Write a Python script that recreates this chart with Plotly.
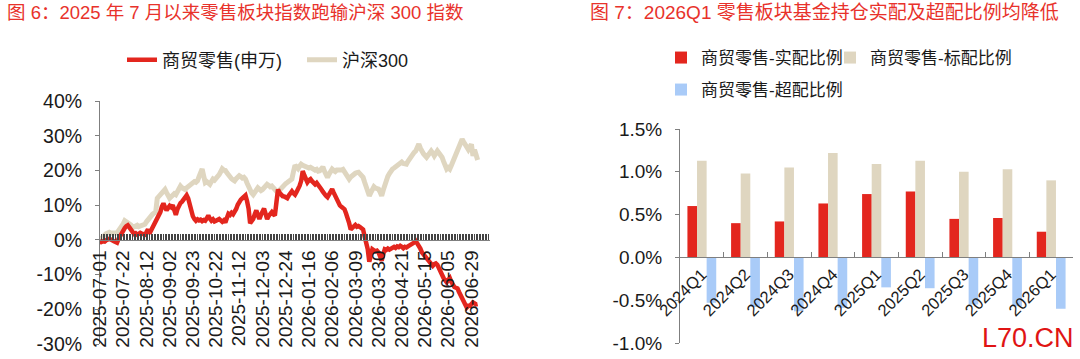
import pandas as pd
import plotly.graph_objects as go

# ---------------- data: left chart ----------------
tick_dates = ["2025-07-01", "2025-07-22", "2025-08-12", "2025-09-02", "2025-09-23",
              "2025-10-22", "2025-11-12", "2025-12-03", "2025-12-24", "2026-01-16",
              "2026-02-06", "2026-03-09", "2026-03-30", "2026-04-21", "2026-05-15",
              "2026-06-05", "2026-06-29"]

holidays = ["2025-10-01", "2025-10-02", "2025-10-03", "2025-10-06", "2025-10-07", "2025-10-08",
            "2026-01-01", "2026-01-02",
            "2026-02-16", "2026-02-17", "2026-02-18", "2026-02-19", "2026-02-20", "2026-02-23",
            "2026-04-06", "2026-05-01", "2026-05-04", "2026-05-05", "2026-06-19"]

retail = [0, -0.6, -0.4, -0.5, -0.1, 0.2, 0.3, 0.1, 0.0, -0.4,
          -0.6, -0.8, 0.3, 1.2, 2.0, 2.8, 3.4, 3.9, 4.2, 3.6,
          2.8, 2.2, 1.7, 1.9, 1.5, 1.7, 2.0, 1.8, 1.6, 1.5,
          2.2, 3.0, 1.8, 2.6, 3.5, 4.2, 5.0, 6.1, 7.0, 8.0,
          9.6, 10.5, 9.4, 8.5, 9.2, 9.8, 9.4, 10.0, 8.6, 7.2,
          8.8, 10.0, 10.6, 11.0, 11.5, 12.1, 12.8, 11.9, 10.0, 8.2,
          6.8, 6.0, 5.5, 5.9, 5.6, 5.8, 5.4, 5.7, 5.5, 6.2,
          7.0, 6.1, 5.5, 5.9, 5.3, 5.5, 5.8, 6.0, 5.6, 5.2,
          5.6, 5.0, 6.3, 7.5, 7.2, 7.8, 7.4, 8.0, 8.9, 10.1,
          11.0, 11.6, 12.0, 12.4, 12.8, 11.2, 9.0, 4.8, 5.4, 6.0,
          7.4, 8.5, 7.1, 6.0, 7.2, 8.1, 9.0, 7.5, 6.0, 6.9,
          7.6, 8.0, 7.4, 7.0, 10.8, 14.5, 13.6, 13.0, 12.6, 12.5,
          12.2, 12.0, 12.8, 13.5, 14.0, 13.4, 13.0, 13.8, 14.5, 15.6,
          17.0, 19.8, 18.6, 17.5, 16.6, 17.2, 17.5, 16.9, 16.2, 16.0,
          16.4, 15.6, 15.1, 14.6, 13.9, 13.1, 12.7, 12.3, 13.2, 14.1,
          14.6, 13.6, 12.7, 11.5, 10.3, 9.9, 9.5, 9.2, 8.8, 7.6,
          6.5, 4.8, 3.0, 3.6, 4.0, 4.3, 3.8, 4.0, 3.7, 3.4,
          3.0, 1.0, -1.0, -2.7, -6.3, -4.5, -2.7, -3.0, -3.3, -3.1,
          -3.6, -4.8, -6.0, -4.2, -2.7, -2.9, -2.5, -2.8, -2.4, -2.2,
          -2.0, -2.3, -1.9, -2.1, -1.7, -2.0, -2.4, -2.0, -2.2, -1.9,
          -1.7, -1.5, -1.2, -0.8, -0.3, -0.9, -1.5, -2.5, -3.6, -4.2,
          -4.9, -5.6, -6.0, -6.8, -7.2, -7.5, -7.0, -6.8, -7.2, -8.3,
          -9.4, -10.4, -11.0, -11.6, -12.2, -11.5, -11.0, -12.1, -13.3, -13.6,
          -13.8, -14.0, -15.0, -16.1, -17.0, -17.8, -18.6, -19.5, -19.0, -19.0,
          -18.6, -18.0, -18.3, -18.6, -18.5]

hs300 = [0, 0.6, 1.1, 1.5, 1.8, 2.0, 2.2, 2.0, 1.9, 2.1,
         2.0, 2.0, 2.6, 3.1, 3.6, 4.6, 5.5, 5.2, 5.0, 5.0,
         4.3, 3.5, 3.7, 3.9, 4.2, 3.8, 4.0, 4.3, 4.6, 4.5,
         5.2, 5.8, 6.5, 6.9, 7.4, 7.7, 8.0, 12.0, 12.6, 13.2,
         13.5, 14.0, 14.5, 13.6, 12.8, 12.0, 12.4, 12.9, 13.3, 13.0,
         14.0, 14.8, 15.5, 15.0, 14.7, 14.5, 15.0, 15.3, 15.5, 15.9,
         16.3, 16.8, 16.6, 17.0, 18.2, 19.4, 20.4, 18.4, 16.5, 16.8,
         16.3, 16.0, 16.8, 17.5, 17.2, 17.6, 18.0, 18.8, 19.6, 20.5,
         20.1, 20.0, 19.3, 18.6, 18.0, 17.6, 17.3, 17.0, 17.6, 18.1,
         18.5, 18.2, 17.8, 18.0, 17.5, 16.4, 15.2, 14.0, 13.5, 13.0,
         13.8, 14.5, 15.0, 14.6, 14.2, 14.5, 15.2, 15.6, 16.0, 15.7,
         15.3, 15.5, 15.0, 14.4, 13.9, 13.5, 14.3, 14.9, 15.5, 15.9,
         16.2, 16.5, 16.9, 17.2, 17.5, 19.6, 21.5, 21.0, 20.5, 21.2,
         21.8, 21.5, 21.2, 21.0, 21.0, 20.7, 20.9, 20.6, 20.4, 20.1,
         20.3, 19.8, 19.9, 20.5, 21.0, 19.8, 18.8, 18.0, 18.9, 19.7,
         20.4, 20.0, 19.7, 20.1, 20.0, 19.9, 20.1, 20.3, 19.4, 18.6,
         18.0, 17.5, 18.1, 18.6, 18.9, 19.2, 19.4, 19.5, 19.0, 18.6,
         18.0, 16.6, 15.0, 14.6, 12.7, 13.6, 14.5, 15.3, 14.9, 14.7,
         14.6, 13.8, 12.7, 14.3, 16.0, 17.5, 18.3, 19.1, 20.0, 20.4,
         20.7, 21.0, 21.4, 21.8, 22.1, 22.4, 22.0, 21.7, 21.8, 22.6,
         23.4, 24.2, 24.7, 25.2, 25.6, 26.5, 27.6, 26.4, 25.3, 24.8,
         24.3, 23.8, 24.4, 25.0, 25.6, 25.0, 24.2, 24.9, 25.6, 25.0,
         24.4, 23.8, 22.6, 21.4, 20.4, 20.8, 20.4, 21.4, 22.4, 23.4,
         24.5, 25.6, 26.8, 27.9, 29.0, 28.2, 27.6, 26.8, 26.0, 26.8,
         27.5, 24.2, 26.0, 24.5, 23.0]

y1_tickvals = [-30, -20, -10, 0, 10, 20, 30, 40]
y1_ticktext = ["-30%", "-20%", "-10%", "0%", "10%", "20%", "30%", "40%"]

# ---------------- data: right chart ----------------
quarters = ["2024Q1", "2024Q2", "2024Q3", "2024Q4", "2025Q1", "2025Q2", "2025Q3", "2025Q4", "2026Q1"]
actual = [0.60, 0.40, 0.42, 0.63, 0.74, 0.77, 0.45, 0.46, 0.30]
standard = [1.13, 0.98, 1.05, 1.22, 1.09, 1.13, 1.00, 1.03, 0.90]
overweight = [-0.53, -0.58, -0.63, -0.59, -0.35, -0.36, -0.55, -0.57, -0.60]

y2_tickvals = [-1.0, -0.5, 0.0, 0.5, 1.0, 1.5]
y2_ticktext = ["-1.0%", "-0.5%", "0.0%", "0.5%", "1.0%", "1.5%"]

# ---------------- build ----------------
days = [d.strftime("%Y-%m-%d") for d in pd.bdate_range("2025-07-01", "2026-07-20")]
days = [d for d in days if d not in holidays]
x_idx = list(range(len(retail)))
x_tickvals = [days.index(d) for d in tick_dates]

W, H = 1080, 359
FONT = "Liberation Sans, Arial, Noto Sans CJK SC, sans-serif"
RED = "#E3261E"
BEIGE = "#DFD6C0"
BLUE = "#A9CBF8"
AX = "#7F7F7F"
TXT = "#1a1a1a"

# domains (paper fractions)
x1_dom = [100 / W, 490 / W]
y1_dom = [1 - 344 / H, 1 - 101 / H]
y1_range = [-30, 40]
y1_zero = y1_dom[0] + (0 - y1_range[0]) / (y1_range[1] - y1_range[0]) * (y1_dom[1] - y1_dom[0])

x2_dom = [680 / W, 1073 / W]
y2_dom = [1 - 343 / H, 1 - 129 / H]
y2_range = [-1.0, 1.5]
y2_zero = y2_dom[0] + (0 - y2_range[0]) / (y2_range[1] - y2_range[0]) * (y2_dom[1] - y2_dom[0])

fig = go.Figure()
fig.add_trace(go.Scatter(x=x_idx, y=hs300, mode="lines", name="沪深300",
                         line=dict(color=BEIGE, width=5), legendrank=2,
                         xaxis="x", yaxis="y", legend="legend"))
fig.add_trace(go.Scatter(x=x_idx, y=retail, mode="lines", name="商贸零售(申万)",
                         line=dict(color=RED, width=4.5), legendrank=1,
                         xaxis="x", yaxis="y", legend="legend"))

fig.add_trace(go.Bar(x=quarters, y=actual, name="商贸零售-实配比例", marker=dict(color=RED, line=dict(width=0)),
                     xaxis="x2", yaxis="y2", legend="legend2"))
fig.add_trace(go.Bar(x=quarters, y=standard, name="商贸零售-标配比例", marker=dict(color=BEIGE, line=dict(width=0)),
                     xaxis="x2", yaxis="y2", legend="legend3"))
fig.add_trace(go.Bar(x=quarters, y=overweight, name="商贸零售-超配比例", marker=dict(color=BLUE, line=dict(width=0)),
                     xaxis="x2", yaxis="y2", legend="legend4"))

def leg(x_px, y_px, size):
    return dict(orientation="h", x=x_px / W, xanchor="left", y=1 - y_px / H, yanchor="middle",
                font=dict(size=size, color=TXT), bgcolor="rgba(0,0,0,0)", itemwidth=30,
                borderwidth=0)

fig.update_layout(
    width=W, height=H,
    margin=dict(l=0, r=0, t=0, b=0, autoexpand=False),
    paper_bgcolor="white", plot_bgcolor="white",
    font=dict(family=FONT, color=TXT),
    barmode="group", bargap=0.34, bargroupgap=0,
    xaxis=dict(domain=x1_dom, anchor="free", position=y1_zero, range=[0, 252],
               tickmode="array", tickvals=x_tickvals, ticktext=tick_dates, tickangle=-90,
               ticks="inside", ticklen=6, tickcolor="#444", tickwidth=1,
               minor=dict(ticks="inside", ticklen=6, tickcolor="#444", tickwidth=1,
                          tickmode="linear", tick0=0, dtick=1, showgrid=False),
               showline=True, linecolor=AX, linewidth=1, showgrid=False, zeroline=False,
               ticklabelstandoff=2,
               tickfont=dict(size=19, color=TXT)),
    yaxis=dict(domain=y1_dom, anchor="x", range=y1_range,
               tickmode="array", tickvals=y1_tickvals, ticktext=y1_ticktext,
               ticks="outside", ticklen=4, tickcolor=AX, ticklabelstandoff=9,
               showline=True, linecolor=AX, linewidth=1, showgrid=False, zeroline=False,
               tickfont=dict(size=19.5, color=TXT)),
    xaxis2=dict(domain=x2_dom, anchor="free", position=y2_zero, type="category",
                tickangle=-45, ticks="inside", ticklen=5, tickcolor=AX, tickson="boundaries",
                showline=True, linecolor=AX, linewidth=1, showgrid=False, zeroline=False,
                tickfont=dict(size=16.5, color=TXT)),
    yaxis2=dict(domain=y2_dom, anchor="x2", range=y2_range,
                tickmode="array", tickvals=y2_tickvals, ticktext=y2_ticktext,
                ticks="outside", ticklen=4, tickcolor=AX, ticklabelstandoff=9,
                showline=True, linecolor=AX, linewidth=1, showgrid=False, zeroline=False,
                tickfont=dict(size=19, color=TXT)),
    legend=dict(leg(122, 60, 18), entrywidth=135),
    legend2=leg(661, 58, 17),
    legend3=leg(830, 58, 17),
    legend4=leg(661, 90, 17),
    showlegend=True,
)

fig.add_annotation(text="图 6：2025 年 7 月以来零售板块指数跑输沪深 300 指数",
                   xref="paper", yref="paper", x=5 / W, y=1 - 12 / H, xanchor="left", yanchor="middle",
                   showarrow=False, font=dict(size=18.5, color="#E8322B"))
fig.add_annotation(text="图 7：2026Q1 零售板块基金持仓实配及超配比例均降低",
                   xref="paper", yref="paper", x=588 / W, y=1 - 12 / H, xanchor="left", yanchor="middle",
                   showarrow=False, font=dict(size=19, color="#E8322B"))
fig.add_annotation(text="L70.CN", xref="paper", yref="paper", x=1076 / W, y=1 - 338 / H,
                   xanchor="right", yanchor="middle", showarrow=False,
                   font=dict(size=27, color="#E01414", family="Liberation Sans, Arial, sans-serif"))

fig.write_html("out.html")
